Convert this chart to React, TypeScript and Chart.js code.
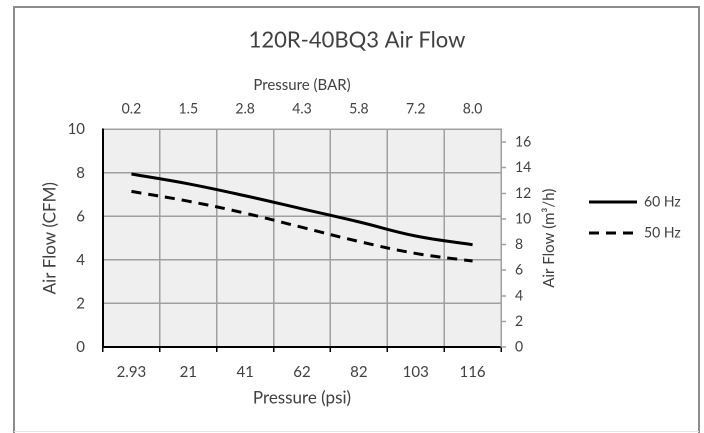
import { useEffect, useRef } from 'react';
import { Chart, registerables } from 'chart.js';

Chart.register(...registerables);
Chart.defaults.font.family = 'Lato';

const psiLabels = ['2.93', '21', '41', '62', '82', '103', '116'];
const barLabels = ['0.2', '1.5', '2.8', '4.3', '5.8', '7.2', '8.0'];
const flow60Hz = [7.95, 7.5, 6.95, 6.35, 5.75, 5.1, 4.7];
const flow50Hz = [7.15, 6.7, 6.15, 5.5, 4.85, 4.3, 3.95];
const cfmMax = 10;
const cfmToM3h = 1.699;

const TEXT = '#404040';
const GRID = '#a0a0a0';

const plotBg = {
  id: 'plotBg',
  beforeDraw(chart: any) {
    const { ctx, chartArea } = chart;
    ctx.save();
    ctx.fillStyle = '#efefef';
    ctx.fillRect(chartArea.left, chartArea.top, chartArea.right - chartArea.left, chartArea.bottom - chartArea.top);
    ctx.restore();
  },
};

const frame = {
  id: 'frame',
  afterDraw(chart: any) {
    const { ctx } = chart;
    ctx.save();
    ctx.strokeStyle = '#8c8c8c';
    ctx.lineWidth = 2;
    ctx.beginPath();
    ctx.moveTo(14, 440);
    ctx.lineTo(14, 7);
    ctx.lineTo(699, 7);
    ctx.lineTo(699, 440);
    ctx.stroke();
    ctx.strokeStyle = '#e6e6e6';
    ctx.lineWidth = 1;
    ctx.beginPath();
    ctx.moveTo(14, 431.5);
    ctx.lineTo(699, 431.5);
    ctx.stroke();
    ctx.restore();
  },
};

const legendWidth = {
  id: 'legendWidth',
  beforeLayout(chart: any) {
    const lg = chart.legend;
    if (lg && !lg._fixedFit) {
      const orig = lg.fit.bind(lg);
      lg.fit = () => {
        orig();
        lg.width = 132;
      };
      lg._fixedFit = true;
    }
  },
};

const rightTitle = {
  id: 'rightTitle',
  afterDraw(chart: any) {
    const { ctx, chartArea } = chart;
    const s = chart.scales.y2;
    ctx.save();
    ctx.translate(s.left + 48, (chartArea.top + chartArea.bottom) / 2);
    ctx.rotate(-Math.PI / 2);
    ctx.fillStyle = TEXT;
    ctx.font = '15px Lato';
    ctx.textAlign = 'center';
    ctx.textBaseline = 'middle';
    ctx.fillText('Air Flow (m³/h)', 0, 0);
    ctx.restore();
  },
};

export default function App() {
  const ref = useRef<HTMLCanvasElement>(null);

  useEffect(() => {
    document.body.style.margin = '0';
  }, []);

  useEffect(() => {
    const chart = new Chart(ref.current!, {
      type: 'line',
      data: {
        labels: psiLabels,
        datasets: [
          {
            label: '60 Hz',
            data: flow60Hz,
            borderColor: '#000',
            backgroundColor: '#000',
            borderWidth: 3,
            pointRadius: 0,
            tension: 0.4,
            xAxisID: 'x',
            yAxisID: 'y',
          },
          {
            label: '50 Hz',
            data: flow50Hz,
            borderColor: '#000',
            backgroundColor: '#000',
            borderWidth: 3,
            borderDash: [10, 7],
            pointRadius: 0,
            tension: 0.4,
            xAxisID: 'x',
            yAxisID: 'y',
          },
        ],
      },
      options: {
        responsive: false,
        animation: false,
        devicePixelRatio: 2,
        layout: { padding: { left: 10, right: 0, top: 0, bottom: 6 } },
        plugins: {
          title: {
            display: true,
            text: '120R-40BQ3 Air Flow',
            color: TEXT,
            font: { size: 22, weight: 'normal' },
            padding: { top: 27, bottom: 4 },
          },
          legend: {
            position: 'right',
            align: 'center',
            title: { display: true, text: ' ', font: { size: 5 }, padding: { top: 1, bottom: 1 } },
            labels: {
              usePointStyle: true,
              pointStyle: 'line',
              pointStyleWidth: 48,
              boxHeight: 14,
              padding: 17,
              color: TEXT,
              font: { size: 14 },
              generateLabels: (c: any) => {
                const items = Chart.defaults.plugins.legend.labels.generateLabels(c);
                items.forEach((it: any) => {
                  it.lineDash = c.data.datasets[it.datasetIndex].borderDash || [];
                });
                return items;
              },
            },
          },
          tooltip: { enabled: false },
        },
        scales: {
          x: {
            type: 'category',
            position: 'bottom',
            offset: true,
            grid: { color: GRID, lineWidth: 1.5, offset: true, tickColor: '#000', tickLength: 5, tickWidth: 1.5 },
            border: { color: '#000', width: 2 },
            ticks: { color: TEXT, font: { size: 15 }, padding: 11, autoSkip: false, maxRotation: 0 },
            title: { display: true, text: 'Pressure (psi)', color: TEXT, font: { size: 17 }, padding: { top: 0, bottom: 19 } },
            afterFit: (s: any) => { s.height = 80; },
          },
          x2: {
            type: 'category',
            position: 'top',
            labels: barLabels,
            offset: true,
            grid: { display: false, drawTicks: false },
            border: { display: false },
            ticks: { color: TEXT, font: { size: 14 }, padding: 12, autoSkip: false, maxRotation: 0 },
            title: { display: true, text: 'Pressure (BAR)', color: TEXT, font: { size: 15 }, padding: { top: 19, bottom: 0 } },
            afterFit: (s: any) => { s.height = 72; },
          },
          y: {
            position: 'left',
            min: 0,
            max: cfmMax,
            ticks: { stepSize: 2, padding: 18, color: TEXT, font: { size: 15 } },
            grid: { color: GRID, lineWidth: 1.5, drawTicks: false },
            border: { color: '#000', width: 2 },
            title: { display: true, text: 'Air Flow (CFM)', color: TEXT, font: { size: 17 }, padding: { top: 30, bottom: 0 } },
            afterFit: (s: any) => { s.width = 93; },
          },
          y2: {
            position: 'right',
            min: 0,
            max: cfmMax * cfmToM3h,
            ticks: { stepSize: 2, includeBounds: false, padding: 9, color: TEXT, font: { size: 14 } },
            grid: { drawOnChartArea: false, drawTicks: true, tickLength: 5, tickColor: GRID, tickWidth: 1.5 },
            border: { color: GRID, width: 1.5 },
            afterFit: (s: any) => { s.width = 71; },
          },
        },
      },
      plugins: [plotBg, legendWidth, rightTitle, frame],
    } as any);
    return () => chart.destroy();
  }, []);

  return (
    <div style={{ width: 704, height: 433, overflow: 'hidden', background: '#fff' }}>
      <canvas ref={ref} width={704} height={433} style={{ display: 'block', width: 704, height: 433 }} />
    </div>
  );
}
